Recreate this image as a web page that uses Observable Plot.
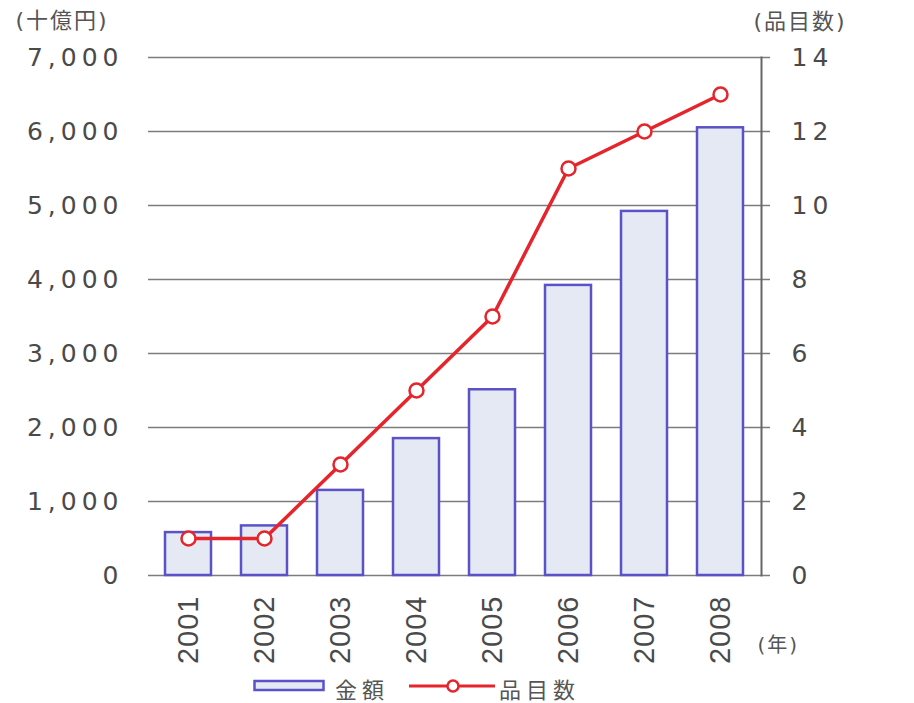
<!DOCTYPE html>
<html>
<head>
<meta charset="utf-8">
<script src="https://cdn.jsdelivr.net/npm/d3@7"></script>
<script src="https://cdn.jsdelivr.net/npm/@observablehq/plot@0.6"></script>
<style>
  html, body { margin: 0; padding: 0; background: #fff; }
  #chart svg { display: block; }
  #chart [aria-label="y-axis tick label"] text { letter-spacing: 5px; }
  #chart [aria-label="x-axis tick label"] text { font-family: "Liberation Sans Narrow", "Liberation Sans", sans-serif; letter-spacing: 1px; }
  #chart .unit text { letter-spacing: 2px; }
  #legend {
    height: 31px; padding-top: 6px; display: flex; align-items: center; padding-left: 253px;
    font-family: "Noto Sans CJK JP", sans-serif; font-size: 22px; line-height: 26px; color: #555;
    letter-spacing: 5px;
  }
  #legend svg { display: block; }
</style>
</head>
<body>
<div id="chart"></div>
<div id="legend"></div>
<script>
// Years on the horizontal axis
const years = ["2001", "2002", "2003", "2004", "2005", "2006", "2007", "2008"];
// Amount (billions of yen), drawn as bars against the left axis
const amounts = [580, 670, 1150, 1850, 2510, 3920, 4920, 6050];
// Number of items, drawn as a line against the right axis
const itemCounts = [1, 1, 3, 5, 7, 11, 12, 13];
// Tick values for each axis
const amountTicks = [0, 1000, 2000, 3000, 4000, 5000, 6000, 7000];
const countTicks = [0, 2, 4, 6, 8, 10, 12, 14];

const amountLabel = "金額";
const countLabel = "品目数";

// Both series share one y scale: 14 items ↔ 7,000 billion yen
const ratio = 7000 / 14;
const data = years.map((year, i) => ({ year, amount: amounts[i], count: itemCounts[i] }));

const red = "#e6242b";
const barFill = "#e5e9f4";
const barStroke = "#5a52c6";
const gridColor = "#7c7c7c";

const chart = Plot.plot({
  width: 914,
  height: 666,
  marginTop: 57,
  marginBottom: 91,
  marginLeft: 148,
  marginRight: 153,
  style: { fontFamily: "'DejaVu Sans', 'Noto Sans CJK JP', sans-serif", color: "#4a4a4a", background: "#fff" },
  x: { domain: years, paddingInner: 0.39, paddingOuter: 0.19 },
  y: { domain: [0, 7000] },
  marks: [
    Plot.ruleY(amountTicks, { stroke: gridColor, strokeWidth: 1.5 }),
    Plot.barY(data, { x: "year", y: "amount", fill: barFill, stroke: barStroke, strokeWidth: 2.5 }),
    Plot.line(data, { x: "year", y: d => d.count * ratio, stroke: red, strokeWidth: 3.5 }),
    Plot.dot(data, { x: "year", y: d => d.count * ratio, r: 7, fill: "#fff", stroke: red, strokeWidth: 2.5 }),
    Plot.axisY(amountTicks, {
      anchor: "left", tickSize: 0, tickPadding: 25, fontSize: 25,
      tickFormat: d3.format(","), label: null
    }),
    Plot.axisY(countTicks.map(v => v * ratio), {
      anchor: "right", tickSize: 8, tickPadding: 22, fontSize: 25,
      stroke: gridColor, strokeWidth: 1.5,
      tickFormat: d => d / ratio, label: null
    }),
    Plot.axisX({ tickRotate: -90, tickSize: 0, tickPadding: 20, fontSize: 29, label: null }),
    Plot.frame({ anchor: "right", stroke: "#666", strokeWidth: 2 }),
    Plot.text(["(十億円)"], {
      frameAnchor: "top-left", textAnchor: "start", lineAnchor: "middle",
      dx: -133, dy: -37, fontSize: 22, fill: "#555", className: "unit"
    }),
    Plot.text(["(品目数)"], {
      frameAnchor: "top-right", textAnchor: "start", lineAnchor: "middle",
      dx: -8, dy: -36, fontSize: 22, fill: "#555", className: "unit"
    }),
    Plot.text(["(年)"], {
      frameAnchor: "bottom-right", textAnchor: "start", lineAnchor: "middle",
      dx: -4, dy: 70, fontSize: 20, fill: "#555", className: "unit"
    })
  ]
});
document.getElementById("chart").append(chart);

// Legend below the chart
const legend = d3.select("#legend");
const sw1 = legend.append("svg").attr("width", 72).attr("height", 14).style("margin-top", "-4px");
sw1.append("rect").attr("x", 1.5).attr("y", 2).attr("width", 69).attr("height", 9)
  .attr("fill", barFill).attr("stroke", barStroke).attr("stroke-width", 2.5);
legend.append("span").text(amountLabel).style("margin-left", "10px");
const sw2 = legend.append("svg").attr("width", 86).attr("height", 16)
  .style("margin-left", "20px").style("margin-top", "-4px");
sw2.append("line").attr("x1", 0).attr("x2", 86).attr("y1", 8).attr("y2", 8)
  .attr("stroke", red).attr("stroke-width", 3);
sw2.append("circle").attr("cx", 44).attr("cy", 8).attr("r", 5.5)
  .attr("fill", "#fff").attr("stroke", red).attr("stroke-width", 2.5);
legend.append("span").text(countLabel).style("margin-left", "4px");
</script>
</body>
</html>
